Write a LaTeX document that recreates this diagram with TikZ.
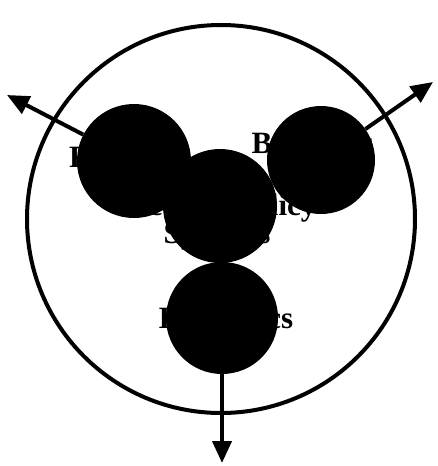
\documentclass[tikz,border=0pt]{standalone}
\usepackage{fontspec}
\setmainfont{Liberation Serif}
\usepackage{tikz}
\usetikzlibrary{arrows.meta,positioning}
\definecolor{ink}{HTML}{000000}

\tikzset{
  blob/.style={circle, fill=ink, draw=none, inner sep=0pt},
  word/.style={text=ink, font=\fontsize{31}{25}\selectfont\bfseries, inner sep=0pt, align=center},
  outarrow/.style={draw=ink, line width=4pt, -{Triangle[length=22pt,width=19pt]}}
}

\begin{document}
\begin{tikzpicture}[x=1pt,y=-1pt]
  \useasboundingbox (0,0) rectangle (437,466);
  % outer ring
  \node[circle, draw=ink, line width=4pt, minimum size=388pt] (rim) at (221,219) {};
  % labels, mostly covered by the discs
  \node[word, anchor=base] (lblfire) at (124,167) {Firewall};
  \node[word, anchor=base] (lblbeh) at (312,153) {Behavior};
  \node[word] (lblsec) at (217,222) {Security Policy\\Systems};
  \node[word, anchor=base] (lblheu) at (226,328) {Heuristics};
  % discs
  \node[blob, minimum size=114pt] (tl) at (134,161) {};
  \node[blob, minimum size=108pt] (tr) at (321,160) {};
  \node[blob, minimum size=114pt] (mid) at (220,206) {};
  \node[blob, minimum size=112pt] (bt) at (222,318) {};
  % free ends
  \coordinate (tlend) at (7,95);
  \coordinate (trend) at (433,82);
  \coordinate (btend) at (222,463);
  \draw[outarrow] (tl) -- (tlend);
  \draw[outarrow] (tr) -- (trend);
  \draw[outarrow] (bt) -- (btend);
\end{tikzpicture}
\end{document}
